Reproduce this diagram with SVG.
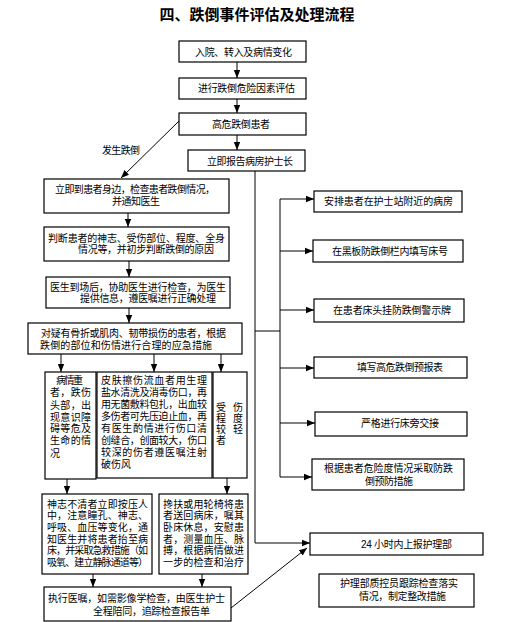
<svg xmlns="http://www.w3.org/2000/svg" width="514" height="622" viewBox="0 0 514 622">
<style>
.bg{fill:#fff}
.box{fill:#fff;stroke:#000;stroke-width:1.2}
.t{font-family:"Liberation Sans","Noto Sans CJK SC",sans-serif;font-size:10px;fill:#000}
.title{font-family:"Liberation Serif","Noto Sans CJK SC",serif;font-size:15px;font-weight:bold;fill:#000}
.ln{fill:none;stroke:#000;stroke-width:1}
.ar{fill:none;stroke:#000;stroke-width:1;marker-end:url(#ah)}
</style>
<defs>
<marker id="ah" markerUnits="userSpaceOnUse" markerWidth="8" markerHeight="8" viewBox="0 0 8 8" refX="8" refY="4" orient="auto">
<path d="M0,0.8 L8,4 L0,7.2 Z" fill="#000"/>
</marker>
</defs>
<rect class="bg" x="0" y="0" width="514" height="622"/>
<text class="title" x="257" y="20" text-anchor="middle">四、跌倒事件评估及处理流程</text>

<g id="n1"><rect class="box" x="179" y="41" width="127" height="21"/><text class="t" x="195" y="55.5" textLength="97" lengthAdjust="spacing">入院、转入及病情变化</text></g>
<g id="n2"><rect class="box" x="179" y="78" width="127" height="21"/><text class="t" x="198" y="91.5" textLength="97" lengthAdjust="spacing">进行跌倒危险因素评估</text></g>
<g id="n3"><rect class="box" x="179" y="113" width="127" height="22"/><text class="t" x="212" y="127.5" textLength="58" lengthAdjust="spacing">高危跌倒患者</text></g>
<g id="n4"><rect class="box" x="188" y="150" width="117" height="21"/><text class="t" x="207" y="164.5" textLength="86" lengthAdjust="spacing">立即报告病房护士长</text></g>
<g id="lbl"><text class="t" x="102" y="153.5" textLength="38" lengthAdjust="spacing">发生跌倒</text></g>

<g id="l1"><rect class="box" x="44" y="179" width="185" height="34"/>
<text class="t" x="55" y="192.5" textLength="160" lengthAdjust="spacing">立即到患者身边，检查患者跌倒情况，</text>
<text class="t" x="112" y="204.5" textLength="48" lengthAdjust="spacing">并通知医生</text></g>
<g id="l2"><rect class="box" x="44" y="227" width="185" height="34"/>
<text class="t" x="48" y="241.5" textLength="177" lengthAdjust="spacing">判断患者的神志、受伤部位、程度、全身</text>
<text class="t" x="78" y="252.5" textLength="136" lengthAdjust="spacing">情况等，并初步判断跌倒的原因</text></g>
<g id="l3"><rect class="box" x="46" y="277" width="184" height="31"/>
<text class="t" x="50" y="290.5" textLength="176" lengthAdjust="spacing">医生到场后，协助医生进行检查，为医生</text>
<text class="t" x="80" y="301.5" textLength="136" lengthAdjust="spacing">提供信息，遵医嘱进行正确处理</text></g>
<g id="l4"><rect class="box" x="28" y="323" width="214" height="31"/>
<text class="t" x="41" y="336.5" textLength="185" lengthAdjust="spacing">对疑有骨折或肌肉、韧带损伤的患者，根据</text>
<text class="t" x="40" y="348.5" textLength="172" lengthAdjust="spacing">跌倒的部位和伤情进行合理的应急措施</text></g>

<g id="a"><rect class="box" x="45" y="372" width="51" height="107"/>
<text class="t" x="56" y="383.5" textLength="27" lengthAdjust="spacing">病情重</text>
<text class="t" x="50" y="396" textLength="41" lengthAdjust="spacing">者，跌伤</text>
<text class="t" x="50" y="408.5" textLength="41" lengthAdjust="spacing">头部，出</text>
<text class="t" x="50" y="420.5" textLength="41" lengthAdjust="spacing">现意识障</text>
<text class="t" x="50" y="432" textLength="41" lengthAdjust="spacing">碍等危及</text>
<text class="t" x="50" y="444" textLength="41" lengthAdjust="spacing">生命的情</text>
<text class="t" x="50" y="456.5" textLength="10" lengthAdjust="spacing">况</text></g>
<g id="b"><rect class="box" x="97" y="372" width="115" height="106"/>
<text class="t" x="101" y="383.5" textLength="106" lengthAdjust="spacing">皮肤擦伤流血者用生理</text>
<text class="t" x="101" y="395.5" textLength="106" lengthAdjust="spacing">盐水清洗及消毒伤口，再</text>
<text class="t" x="101" y="407.5" textLength="106" lengthAdjust="spacing">用无菌敷料包扎，出血较</text>
<text class="t" x="101" y="419.5" textLength="106" lengthAdjust="spacing">多伤者可先压迫止血，再</text>
<text class="t" x="101" y="431.5" textLength="106" lengthAdjust="spacing">有医生酌情进行伤口清</text>
<text class="t" x="101" y="443.5" textLength="106" lengthAdjust="spacing">创缝合，创面较大，伤口</text>
<text class="t" x="101" y="455.5" textLength="106" lengthAdjust="spacing">较深的伤者遵医嘱注射</text>
<text class="t" x="101" y="467.5" textLength="30" lengthAdjust="spacing">破伤风</text></g>
<g id="c"><rect class="box" x="213" y="372" width="34" height="106"/>
<text class="t" x="216" y="410.5">受</text><text class="t" x="233" y="410.5">伤</text>
<text class="t" x="216" y="421.5">程</text><text class="t" x="233" y="421.5">度</text>
<text class="t" x="216" y="432.5">较</text><text class="t" x="233" y="432.5">轻</text>
<text class="t" x="216" y="443.5">者</text></g>

<g id="d"><rect class="box" x="42" y="494" width="110" height="80"/>
<text class="t" x="47" y="507.5" textLength="101" lengthAdjust="spacing">神志不清者立即按压人</text>
<text class="t" x="47" y="519" textLength="101" lengthAdjust="spacing">中，注意瞳孔、神志、</text>
<text class="t" x="47" y="530.5" textLength="101" lengthAdjust="spacing">呼吸、血压等变化，通</text>
<text class="t" x="47" y="542.5" textLength="101" lengthAdjust="spacing">知医生并将患者抬至病</text>
<text class="t" x="47" y="554" textLength="101" lengthAdjust="spacing">床，并采取急救措施（如</text>
<text class="t" x="47" y="565.5" textLength="101" lengthAdjust="spacing">吸氧、建立静脉通道等）</text></g>
<g id="e"><rect class="box" x="159" y="494" width="89" height="80"/>
<text class="t" x="163" y="507.5" textLength="81" lengthAdjust="spacing">搀扶或用轮椅将患</text>
<text class="t" x="163" y="519" textLength="81" lengthAdjust="spacing">者送回病床，嘱其</text>
<text class="t" x="163" y="530.5" textLength="81" lengthAdjust="spacing">卧床休息，安慰患</text>
<text class="t" x="163" y="542.5" textLength="81" lengthAdjust="spacing">者，测量血压、脉</text>
<text class="t" x="163" y="554" textLength="81" lengthAdjust="spacing">搏，根据病情做进</text>
<text class="t" x="163" y="565.5" textLength="81" lengthAdjust="spacing">一步的检查和治疗</text></g>
<g id="f"><rect class="box" x="44" y="587" width="187" height="34"/>
<text class="t" x="48" y="601.5" textLength="177" lengthAdjust="spacing">执行医嘱，如需影像学检查，由医生护士</text>
<text class="t" x="93" y="614.5" textLength="117" lengthAdjust="spacing">全程陪同，追踪检查报告单</text></g>

<g id="r1"><rect class="box" x="314" y="191" width="148" height="21"/><text class="t" x="324" y="204.5" textLength="129" lengthAdjust="spacing">安排患者在护士站附近的病房</text></g>
<g id="r2"><rect class="box" x="313" y="240" width="150" height="22"/><text class="t" x="332" y="254.5" textLength="116" lengthAdjust="spacing">在黑板防跌倒栏内填写床号</text></g>
<g id="r3"><rect class="box" x="314" y="299" width="150" height="23"/><text class="t" x="333" y="314" textLength="118" lengthAdjust="spacing">在患者床头挂防跌倒警示牌</text></g>
<g id="r4"><rect class="box" x="314" y="357" width="153" height="21"/><text class="t" x="357" y="371" textLength="86" lengthAdjust="spacing">填写高危跌倒预报表</text></g>
<g id="r5"><rect class="box" x="315" y="412" width="152" height="24"/><text class="t" x="361" y="426.5" textLength="78" lengthAdjust="spacing">严格进行床旁交接</text></g>
<g id="r6"><rect class="box" x="312" y="459" width="152" height="31"/>
<text class="t" x="324" y="471.5" textLength="129" lengthAdjust="spacing">根据患者危险度情况采取防跌</text>
<text class="t" x="365" y="484.5" textLength="48" lengthAdjust="spacing">倒预防措施</text></g>
<g id="r7"><rect class="box" x="310" y="533" width="173" height="22"/><text class="t" x="361" y="547.5" textLength="91" lengthAdjust="spacing">24 小时内上报护理部</text></g>
<g id="r8"><rect class="box" x="319" y="574" width="155" height="33"/>
<text class="t" x="340" y="586.5" textLength="118" lengthAdjust="spacing">护理部质控员跟踪检查落实</text>
<text class="t" x="359" y="599.5" textLength="87" lengthAdjust="spacing">情况，制定整改措施</text></g>

<g id="connectors">
<line class="ar" x1="237" y1="62" x2="237" y2="78"/>
<line class="ar" x1="237" y1="99" x2="237" y2="113"/>
<line class="ar" x1="237" y1="135" x2="237" y2="150"/>
<line class="ar" x1="179" y1="121" x2="121" y2="178"/>
<line class="ar" x1="128" y1="213" x2="128" y2="227"/>
<line class="ar" x1="129" y1="261" x2="129" y2="277"/>
<line class="ar" x1="129" y1="308" x2="129" y2="323"/>
<line class="ar" x1="61" y1="354" x2="61" y2="372"/>
<line class="ar" x1="154" y1="354" x2="154" y2="372"/>
<line class="ar" x1="221" y1="354" x2="221" y2="372"/>
<line class="ar" x1="67" y1="479" x2="67" y2="494"/>
<line class="ar" x1="227" y1="478" x2="227" y2="494"/>
<line class="ar" x1="93" y1="574" x2="93" y2="587"/>
<line class="ar" x1="202" y1="574" x2="202" y2="587"/>
<line class="ar" x1="231" y1="608" x2="307" y2="548"/>
<polyline class="ar" points="255,171 255,543 310,543"/>
<line class="ln" x1="255" y1="331" x2="280" y2="331"/>
<line class="ln" x1="280" y1="199" x2="280" y2="477"/>
<line class="ar" x1="280" y1="199" x2="314" y2="199"/>
<line class="ar" x1="280" y1="251" x2="313" y2="251"/>
<line class="ar" x1="280" y1="310" x2="314" y2="310"/>
<line class="ar" x1="280" y1="368" x2="314" y2="368"/>
<line class="ar" x1="280" y1="423" x2="315" y2="423"/>
<line class="ar" x1="280" y1="477" x2="312" y2="477"/>
</g>
</svg>
